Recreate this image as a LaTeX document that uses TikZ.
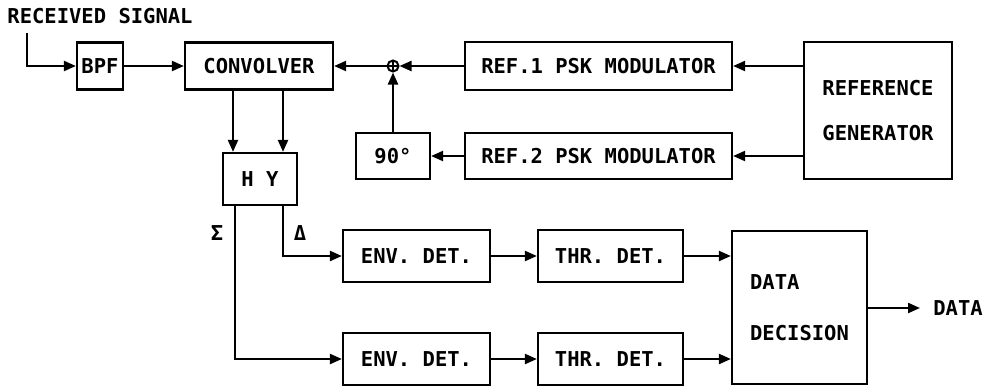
\documentclass[tikz,border=0pt]{standalone}
\usepackage{fontspec}
\newfontfamily\diagfont{DejaVu Sans Mono}
\usetikzlibrary{arrows.meta}
\begin{document}
\begin{tikzpicture}[x=1pt,y=-1pt,
  every node/.style={font=\diagfont\bfseries\fontsize{20.5}{24}\selectfont},
  blk/.style={draw,line width=2.2pt,inner sep=0pt},
  conn/.style={line width=2.2pt},
  arr/.style={conn,-{Triangle[length=12pt,width=10pt]}}]
\useasboundingbox (0,0) rectangle (983,386);
% top row
\node (rs) at (100,16) {RECEIVED SIGNAL};
\coordinate (in) at (27,33);
\node[blk,minimum width=46,minimum height=47] (bpf) at (100,66) {BPF};
\node[blk,minimum width=148,minimum height=47] (conv) at (259,66) {CONVOLVER};
\node[draw,circle,line width=2pt,minimum size=11pt,inner sep=0pt,
  path picture={\draw[line width=1.2pt] (path picture bounding box.north) -- (path picture bounding box.south)
  (path picture bounding box.west) -- (path picture bounding box.east);}] (sum) at (393,66) {};
\node[blk,minimum width=267,minimum height=48] (ref1) at (598.5,66) {REF.1 PSK MODULATOR};
\node[blk,minimum width=267,minimum height=46] (ref2) at (598.5,156) {REF.2 PSK MODULATOR};
\node[blk,minimum width=74,minimum height=46] (n90) at (393,156) {90°};
\node[blk,minimum width=148,minimum height=137,align=center,
  font=\diagfont\bfseries\fontsize{20.5}{45}\selectfont] (rg) at (878,110.5) {REFERENCE\\GENERATOR};
% hybrid
\node[blk,minimum width=74,minimum height=52] (hy) at (260,179) {H Y};
\coordinate (c1) at (233,0);
\coordinate (c2) at (283,0);
\coordinate (sx) at (235,0);
\coordinate (dx) at (283,0);
\node (sig) at (217,233) {Σ};
\node (del) at (300,233) {Δ};
% lower rows
\node[blk,minimum width=147,minimum height=52] (env1) at (416.5,256) {ENV. DET.};
\node[blk,minimum width=147,minimum height=52] (env2) at (416.5,359) {ENV. DET.};
\node[blk,minimum width=145,minimum height=52] (thr1) at (610.5,256) {THR. DET.};
\node[blk,minimum width=145,minimum height=52] (thr2) at (610.5,359) {THR. DET.};
\node[blk,minimum width=135,minimum height=153,align=left,
  font=\diagfont\bfseries\fontsize{20.5}{51}\selectfont] (dd) at (799.5,307.5) {DATA\\DECISION};
\coordinate (out) at (920,308);
\node (data) at (958,308) {DATA};
% connectors
\draw[arr] (in) |- (bpf.west);
\draw[arr] (bpf) -- (conv);
\draw[arr] (sum) -- (conv.east);
\draw[arr] (ref1.west) -- (sum);
\draw[arr] (n90.north) -- (sum);
\draw[arr] (ref2.west) -- (n90.east);
\draw[arr] (rg.west |- ref1) -- (ref1.east);
\draw[arr] (rg.west |- ref2) -- (ref2.east);
\draw[arr] (conv.south -| c1) -- (hy.north -| c1);
\draw[arr] (conv.south -| c2) -- (hy.north -| c2);
\draw[arr] (hy.south -| dx) |- (env1.west);
\draw[arr] (hy.south -| sx) |- (env2.west);
\draw[arr] (env1) -- (thr1);
\draw[arr] (env2) -- (thr2);
\draw[arr] (thr1.east) -- (dd.west |- thr1);
\draw[arr] (thr2.east) -- (dd.west |- thr2);
\draw[arr] (dd.east |- out) -- (out);
\end{tikzpicture}
\end{document}
